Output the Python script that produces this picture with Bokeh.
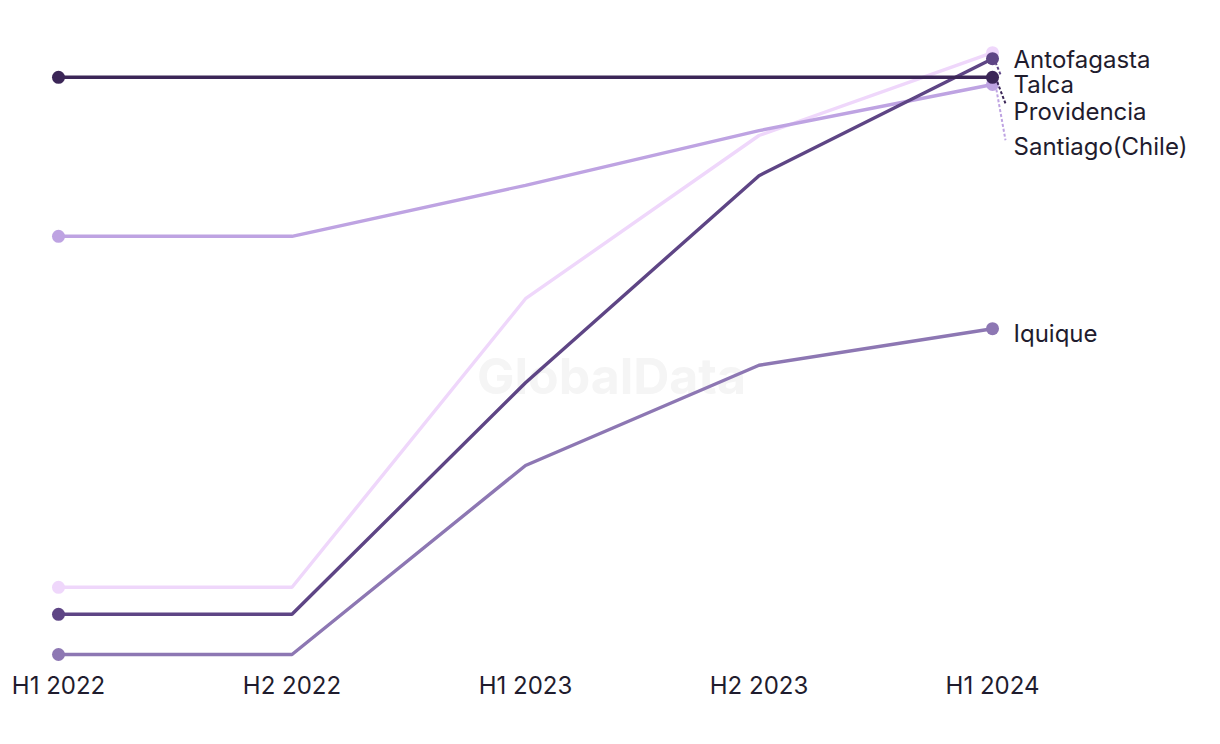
from bokeh.plotting import figure
from bokeh.models import Range1d, FixedTicker
from bokeh.core.properties import value
from bokeh.embed import file_html
from bokeh.resources import INLINE

periods = ["H1 2022", "H2 2022", "H1 2023", "H2 2023", "H1 2024"]
xs = [0, 1, 2, 3, 4]

talca = [97.2, 97.2, 97.2, 97.2, 97.2]
antofagasta = [7.7, 7.7, 46.3, 80.8, 100.3]
providencia = [70.7, 70.7, 79.2, 88.3, 96.0]
santiago = [12.2, 12.2, 60.3, 87.5, 101.3]
iquique = [1.0, 1.0, 32.5, 49.2, 55.3]

series = [
    ("Santiago(Chile)", santiago, "#efd7fb"),
    ("Iquique", iquique, "#8d77b3"),
    ("Providencia", providencia, "#bea3e2"),
    ("Antofagasta", antofagasta, "#5e4585"),
    ("Talca", talca, "#3b2657"),
]

label_names = ["Antofagasta", "Talca", "Providencia", "Santiago(Chile)", "Iquique"]
label_y = [100.2, 96.0, 91.5, 85.7, 54.5]
label_x = 4.09

FONT = "Inter"
TEXT = "#1f1c2e"

p = figure(width=1220, height=744, output_backend="svg", toolbar_location=None,
           x_range=Range1d(-0.2484, 4.9764), y_range=Range1d(-2, 110),
           min_border_left=0, min_border_right=0, min_border_top=0, min_border_bottom=72)
p.outline_line_color = None
p.background_fill_color = "white"
p.border_fill_color = "white"
p.xgrid.visible = False
p.ygrid.visible = False
p.yaxis.visible = False
p.xaxis.axis_line_color = None
p.xaxis.major_tick_line_color = None
p.xaxis.minor_tick_line_color = None
p.xaxis.major_tick_out = 0
p.xaxis.major_tick_in = 0
p.xaxis.ticker = FixedTicker(ticks=xs)
p.xaxis.major_label_overrides = {i: s for i, s in enumerate(periods)}
p.xaxis.major_label_text_font = FONT
p.xaxis.major_label_text_font_size = "24px"
p.xaxis.major_label_text_color = TEXT
p.xaxis.major_label_standoff = -2

# watermark
p.text(x=[2.368], y=[47.5], text=["GlobalData"], text_font=value("Inter"),
       text_font_style="bold", text_font_size="50px", text_color="#f5f5f5",
       text_align="center", text_baseline="middle")

for name, vals, col in series:
    p.line(xs, vals, line_color=col, line_width=3.4)
    p.scatter([xs[0], xs[-1]], [vals[0], vals[-1]], size=13, fill_color=col, line_color=None)

# leader lines
p.line([4.0128, 4.034], [99.7, 97.7], line_color="#5e4585", line_width=2, line_dash="3 2")
p.line([4.0128, 4.0557], [97.2, 92.8], line_color="#3b2657", line_width=2, line_dash="3 2")
p.line([4.0128, 4.0557], [96.0, 86.7], line_color="#bea3e2", line_width=2, line_dash="3 2")

p.text(x=[label_x] * len(label_names), y=label_y, text=label_names,
       text_font=value(FONT), text_font_size="24px", text_color=TEXT,
       text_align="left", text_baseline="middle")

open("out.html", "w").write(file_html(p, INLINE))
